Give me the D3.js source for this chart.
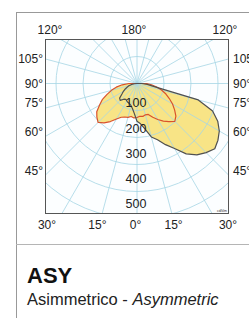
<!DOCTYPE html>
<html><head><meta charset="utf-8">
<script src="https://cdn.jsdelivr.net/npm/d3@7"></script>
<style>html,body{margin:0;padding:0;background:#fff;overflow:hidden}</style>
</head><body>
<svg id="c" width="249" height="318"></svg>
<script>
// ---- data ----
const gammaAngles = [-90,-85,-80,-75,-70,-65,-60,-55,-50,-45,-40,-35,-30,-25,-20,-15,-10,-5,0,5,10,15,20,25,30,35,40,45,50,55,60,65,70,75,80,85,90];
const redValues  = [30,55,78,98,118,142,160,182,194,204,190,172,152,138,132,130,124,128,126,122,124,120,122,138,154,170,184,198,188,170,152,132,114,94,74,54,36];
const greyValues = [0,10,20,30,38,48,58,68,84,88,76,72,75,78,80,85,95,112,140,150,172,205,222,250,278,318,345,362,376,366,352,330,298,235,62,38,18];
const radialTicks = [100,200,300,400,500];
const radialTickLabels = ["100","200","300","400","500"];
const sideAngles = [105,90,75,60,45];
const sideLabels = ["105°","90°","75°","60°","45°"];
const bottomAngles = [-30,-15,0,15,30];
const bottomLabels = ["30°","15°","0°","15°","30°"];
const topLabels = ["120°","180°","120°"];
const titleText = "ASY";
const subtitleText = "Asimmetrico - ";
const subtitleItalic = "Asymmetric";
const unitText = "cd/klm";

// ---- layout ----
const W = 249, H = 318;
const plot = {l:45, r:229, t:39, b:214};
const cx = 137, cy = 83.5;
const rScale = d3.scaleLinear().domain([0,100]).range([0,27]);
const labelScale = d3.scaleLinear().domain([100,500]).range([103,204]);
const font = "'Liberation Sans', Arial, sans-serif";
const gridColor = "#a6d5e4";
const fillColor = "#f8e486";
const toRad = d => d*Math.PI/180;

const svg = d3.select("#c");
svg.append("rect").attr("width",W).attr("height",H).attr("fill","#fff");

// outer frame
svg.append("line").attr("x1",16.5).attr("x2",16.5).attr("y1",12).attr("y2",H).attr("stroke","#999");
svg.append("line").attr("x1",16).attr("x2",W).attr("y1",12.5).attr("y2",12.5).attr("stroke","#999");
svg.append("line").attr("x1",16).attr("x2",W).attr("y1",244.5).attr("y2",244.5).attr("stroke","#b5b5b5").attr("stroke-width",1.2);

svg.append("clipPath").attr("id","clip").append("rect")
  .attr("x",plot.l).attr("y",plot.t).attr("width",plot.r-plot.l).attr("height",plot.b-plot.t);

const g = svg.append("g").attr("clip-path","url(#clip)");
g.append("rect").attr("x",plot.l).attr("y",plot.t).attr("width",plot.r-plot.l).attr("height",plot.b-plot.t).attr("fill","#fcfeff");

function series(vals){
  const pts = gammaAngles.map((a,i)=>({a, v: vals[i]}));
  return [{a:-90,v:0}, ...pts, {a:90,v:0}];
}
const radial = d3.lineRadial()
  .angle(d => Math.PI - toRad(d.a))
  .radius(d => rScale(d.v))
  .curve(d3.curveLinearClosed);

// fills
const fills = g.append("g").attr("transform",`translate(${cx},${cy})`);
fills.append("path").attr("d", radial(series(greyValues))).attr("fill",fillColor);
fills.append("path").attr("d", radial(series(redValues))).attr("fill",fillColor);

// grid
const grid = g.append("g").attr("transform",`translate(${cx},${cy})`);
const circleTicks = d3.range(100, 800, 100);
grid.selectAll("circle").data(circleTicks).join("circle")
  .attr("r", d=>rScale(d)).attr("fill","none").attr("stroke",gridColor).attr("stroke-width",0.8);
const rayAngles = d3.range(0, 360, 15);
grid.selectAll("line").data(rayAngles).join("line")
  .attr("x1",0).attr("y1",0)
  .attr("x2", d=>260*Math.sin(toRad(d))).attr("y2", d=>260*Math.cos(toRad(d)))
  .attr("stroke",gridColor).attr("stroke-width",0.8);

// outlines
const outl = g.append("g").attr("transform",`translate(${cx},${cy})`);
outl.append("path").attr("d", radial(series(redValues))).attr("fill","none").attr("stroke","#d9532c").attr("stroke-width",1.2).attr("stroke-linejoin","round");
outl.append("path").attr("d", radial(series(greyValues))).attr("fill","none").attr("stroke","#505050").attr("stroke-width",1.2).attr("stroke-linejoin","round");

// radial labels
g.selectAll("text.rl").data(radialTicks).join("text").attr("class","rl")
  .attr("x", cx-1).attr("y", d=>labelScale(d))
  .attr("dy","0.35em").attr("text-anchor","middle")
  .attr("font-family",font).attr("font-size",12.5).attr("fill","#222")
  .text((d,i)=>radialTickLabels[i]);

// unit
g.append("text").attr("x",plot.r-2).attr("y",plot.b-2).attr("text-anchor","end")
  .attr("font-family",font).attr("font-size",3.5).attr("fill","#333").text(unitText);

// plot border
svg.append("rect").attr("x",plot.l+0.5).attr("y",plot.t+0.5).attr("width",plot.r-plot.l-1).attr("height",plot.b-plot.t-1)
  .attr("fill","none").attr("stroke","#555").attr("stroke-width",1);

// side labels
const lab = svg.append("g").attr("font-family",font).attr("font-size",12).attr("fill","#222");
sideAngles.forEach((a,i)=>{
  const dx = cx - plot.l;
  const yInt = cy + dx/Math.tan(toRad(a));
  const yc = a < 90 ? yInt - 5 : yInt;
  lab.append("text").attr("x",plot.l-2).attr("y",yc).attr("dy","0.35em").attr("text-anchor","end").text(sideLabels[i]);
  lab.append("text").attr("x",plot.r+4).attr("y",yc).attr("dy","0.35em").attr("text-anchor","start").text(sideLabels[i]);
});
// bottom labels
const labelLineY = 225;
bottomAngles.forEach((a,i)=>{
  let x;
  if (i===0) x = plot.l + 2;
  else if (i===bottomAngles.length-1) x = plot.r - 1;
  else x = cx + Math.tan(toRad(a))*(labelLineY+0.5-cy) - 1.5;
  lab.append("text").attr("x",x).attr("y",labelLineY).attr("dy","0.35em").attr("text-anchor","middle").text(bottomLabels[i]);
});
// top labels
const topX = [plot.l+5, cx-3, plot.r-4];
topLabels.forEach((t,i)=>{
  lab.append("text").attr("x",topX[i]).attr("y",30).attr("dy","0.35em").attr("text-anchor","middle").text(t);
});

// title block
svg.append("text").attr("x",27).attr("y",283).attr("font-family",font).attr("font-size",22).attr("font-weight","bold").attr("fill","#111").text(titleText);
const st = svg.append("text").attr("x",27).attr("y",305).attr("font-family",font).attr("font-size",16.5).attr("fill","#222");
st.append("tspan").text(subtitleText);
st.append("tspan").attr("font-style","italic").text(subtitleItalic);
</script>
</body></html>
